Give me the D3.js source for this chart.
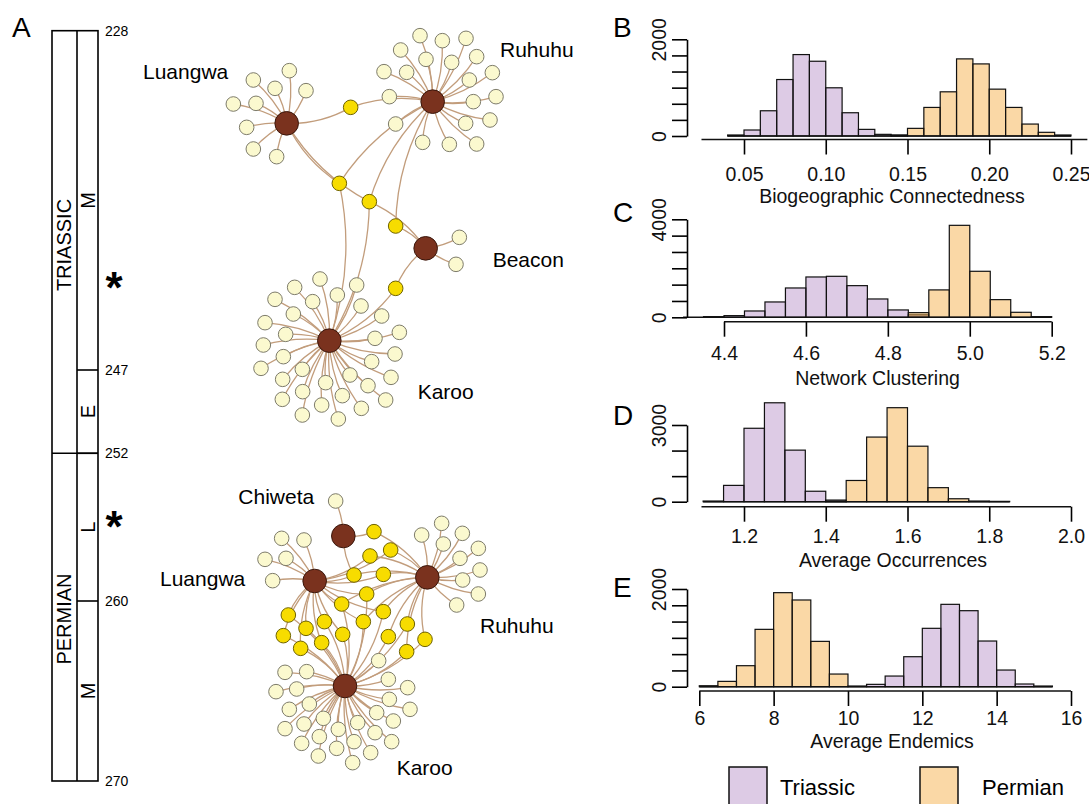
<!DOCTYPE html>
<html>
<head>
<meta charset="utf-8">
<title>Permian-Triassic biogeographic networks</title>
<script src="https://cdn.jsdelivr.net/npm/d3@7"></script>
<style>
  body { margin: 0; background: #fff; }
  svg { display: block; font-family: "Liberation Sans", Arial, Helvetica, sans-serif; }
</style>
</head>
<body>
<script>
// ---------- data ----------
// geological timescale (Ma)
var ageMarks = [228, 247, 252, 260, 270];
var periods = [["TRIASSIC", 228, 252], ["PERMIAN", 252, 270]];
var epochs = [["M", 228, 247], ["E", 247, 252], ["L", 252, 260], ["M", 260, 270]];
var starAges = [242, 255.6];

// network layouts (layout units of the force layout)
var triHubs = [["Luangwa", 470, 310], ["Ruhuhu", 908, 245], ["Beacon", 887, 685], ["Karoo", 598, 962]];
var triLeaves = [
  ["Luangwa",478,152],["Luangwa",370,180],["Luangwa",435,205],["Luangwa",528,212],["Luangwa",310,252],
  ["Luangwa",378,250],["Luangwa",350,322],["Luangwa",370,387],["Luangwa",440,410],
  ["Ruhuhu",870,47],["Ruhuhu",937,62],["Ruhuhu",1008,55],["Ruhuhu",812,90],["Ruhuhu",888,118],
  ["Ruhuhu",965,127],["Ruhuhu",1040,110],["Ruhuhu",762,155],["Ruhuhu",830,157],["Ruhuhu",1018,180],
  ["Ruhuhu",1087,158],["Ruhuhu",778,230],["Ruhuhu",1030,245],["Ruhuhu",1098,230],["Ruhuhu",1007,310],
  ["Ruhuhu",1080,300],["Ruhuhu",797,312],["Ruhuhu",878,367],["Ruhuhu",958,373],["Ruhuhu",1040,372],
  ["Beacon",988,652],["Beacon",978,733],
  ["Karoo",570,777],["Karoo",494,802],["Karoo",680,795],["Karoo",622,825],["Karoo",435,838],
  ["Karoo",548,845],["Karoo",693,858],["Karoo",490,882],["Karoo",755,888],["Karoo",405,908],
  ["Karoo",467,943],["Karoo",808,937],["Karoo",735,955],["Karoo",400,975],["Karoo",460,1010],
  ["Karoo",795,1002],["Karoo",725,1025],["Karoo",393,1045],["Karoo",517,1048],["Karoo",660,1065],
  ["Karoo",783,1072],["Karoo",458,1078],["Karoo",587,1088],["Karoo",714,1097],["Karoo",518,1115],
  ["Karoo",637,1127],["Karoo",767,1140],["Karoo",457,1138],["Karoo",575,1155],["Karoo",694,1165],
  ["Karoo",517,1185],["Karoo",625,1197]
];
var triShared = [
  [662, 262, ["Luangwa", "Ruhuhu"]],
  [628, 490, ["Luangwa", "Ruhuhu", "Karoo"]],
  [718, 545, ["Luangwa", "Ruhuhu", "Karoo", "Beacon"]],
  [797, 618, ["Ruhuhu", "Beacon"]],
  [797, 805, ["Beacon", "Karoo"]]
];
var triLabels = [["Luangwa", 39, 177], ["Ruhuhu", 1110, 112], ["Beacon", 1088, 741], ["Karoo", 863, 1137]];

var permHubs = [["Chiweta", 580, 198], ["Luangwa", 494, 333], ["Ruhuhu", 832, 322], ["Karoo", 585, 648]];
var permLeaves = [
  ["Chiweta",557,93],
  ["Luangwa",395,205],["Luangwa",462,210],["Luangwa",345,268],["Luangwa",408,265],["Luangwa",368,332],
  ["Ruhuhu",875,160],["Ruhuhu",815,195],["Ruhuhu",937,190],["Ruhuhu",880,222],["Ruhuhu",985,235],
  ["Ruhuhu",930,265],["Ruhuhu",990,300],["Ruhuhu",938,330],["Ruhuhu",985,372],["Ruhuhu",920,405],
  ["Karoo",686,572],["Karoo",405,607],["Karoo",470,605],["Karoo",715,628],["Karoo",378,665],
  ["Karoo",440,657],["Karoo",773,653],["Karoo",478,702],["Karoo",418,718],["Karoo",718,688],
  ["Karoo",780,718],["Karoo",520,745],["Karoo",680,728],["Karoo",405,776],["Karoo",462,762],
  ["Karoo",623,758],["Karoo",730,753],["Karoo",565,778],["Karoo",508,800],["Karoo",675,788],
  ["Karoo",455,820],["Karoo",560,835],["Karoo",612,815],["Karoo",725,815],["Karoo",505,858],
  ["Karoo",662,848],["Karoo",608,878]
];
var permShared = [
  [672, 185, ["Chiweta", "Ruhuhu"]],
  [660, 258, ["Luangwa", "Ruhuhu"]],
  [722, 240, ["Luangwa", "Ruhuhu"]],
  [612, 315, ["Luangwa", "Ruhuhu", "Chiweta"]],
  [700, 313, ["Luangwa", "Ruhuhu"]],
  [650, 372, ["Luangwa", "Ruhuhu", "Karoo"]],
  [575, 402, ["Luangwa", "Ruhuhu", "Karoo"]],
  [700, 425, ["Luangwa", "Ruhuhu", "Karoo"]],
  [415, 435, ["Luangwa", "Karoo"]],
  [468, 475, ["Luangwa", "Karoo"]],
  [523, 455, ["Luangwa", "Karoo"]],
  [640, 455, ["Luangwa", "Ruhuhu", "Karoo"]],
  [578, 493, ["Luangwa", "Karoo"]],
  [400, 497, ["Luangwa", "Karoo"]],
  [515, 518, ["Luangwa", "Karoo"]],
  [452, 535, ["Luangwa", "Karoo"]],
  [715, 500, ["Ruhuhu", "Karoo"]],
  [772, 462, ["Ruhuhu", "Karoo"]],
  [825, 508, ["Ruhuhu", "Karoo"]],
  [770, 545, ["Ruhuhu", "Karoo"]]
];
var permLabels = [["Chiweta", 265, 102], ["Luangwa", 30, 348], ["Ruhuhu", 990, 489], ["Karoo", 740, 915]];

// histograms: bin edges and counts
var edgesB = [0.04,0.05,0.06,0.07,0.08,0.09,0.10,0.11,0.12,0.13,0.14,0.15,0.16,0.17,0.18,0.19,0.20,0.21,0.22,0.23,0.24,0.25];
var triB  = [21,124,522,1168,1684,1546,997,481,137,34,14,0,0,0,0,0,0,0,0,0,0];
var permB = [0,0,0,0,0,0,0,0,0,0,21,158,591,914,1595,1491,969,591,247,76,21];
var ticksB = [0.05, 0.10, 0.15, 0.20, 0.25];

var edgesC = [4.30,4.35,4.40,4.45,4.50,4.55,4.60,4.65,4.70,4.75,4.80,4.85,4.90,4.95,5.00,5.05,5.10,5.15,5.20];
var triC  = [0,27,68,258,626,1197,1646,1673,1292,748,300,100,0,0,0,0,0,0];
var permC = [0,0,0,0,0,0,0,0,0,0,0,190,1118,3754,1878,721,204,27];
var ticksC = [4.4, 4.6, 4.8, 5.0, 5.2];

var edgesD = [1.10,1.15,1.20,1.25,1.30,1.35,1.40,1.45,1.50,1.55,1.60,1.65,1.70,1.75,1.80,1.85];
var triD  = [26,638,2872,3869,2017,409,64,0,0,0,0,0,0,0,0];
var permD = [0,0,0,0,0,0,26,830,2528,3677,2171,549,115,26,13];
var ticksD = [1.2, 1.4, 1.6, 1.8, 2.0];

var edgesE = [6.0,6.5,7.0,7.5,8.0,8.5,9.0,9.5,10.0,10.5,11.0,11.5,12.0,12.5,13.0,13.5,14.0,14.5,15.0,15.5];
var triE  = [0,0,0,0,0,0,0,0,0,48,218,614,1195,1686,1556,935,341,55,14];
var permE = [20,109,430,1174,1925,1775,928,259,14,0,0,0,0,0,0,0,0,0,0];
var ticksE = [6, 8, 10, 12, 14, 16];

var seriesNames = ["Triassic", "Permian"];

// ---------- drawing ----------
var triColor = "rgba(160,110,182,0.36)", permColor = "rgba(245,168,58,0.45)";
var svg = d3.select("body").append("svg").attr("width", 1089).attr("height", 804);

function letter(t, x, y) {
  svg.append("text").attr("x", x).attr("y", y).attr("font-size", 28).text(t);
}

// ----- A: timescale
letter("A", 12, 37);
var ageY = d3.scaleLinear().domain(ageMarks).range([30.7, 370, 453.3, 601, 781]);
var col = {left: 52, mid: 77, right: 98};
var ts = svg.append("g").attr("stroke", "#000").attr("stroke-width", 1.6).attr("fill", "none");
ts.append("rect").attr("x", col.left).attr("y", ageY(228)).attr("width", col.right - col.left)
  .attr("height", ageY(270) - ageY(228));
ts.append("line").attr("x1", col.mid).attr("x2", col.mid).attr("y1", ageY(228)).attr("y2", ageY(270));
ts.selectAll(".pb").data(periods.slice(1)).enter().append("line")
  .attr("x1", col.left).attr("x2", col.right).attr("y1", d => ageY(d[1])).attr("y2", d => ageY(d[1]));
ts.selectAll(".eb").data(epochs.slice(1)).enter().append("line")
  .attr("x1", col.mid).attr("x2", col.right).attr("y1", d => ageY(d[1])).attr("y2", d => ageY(d[1]));

svg.selectAll(".age").data(ageMarks).enter().append("text")
  .attr("x", 105).attr("y", d => ageY(d)).attr("dy", "0.35em").attr("font-size", 14).text(d => d);
svg.selectAll(".period").data(periods).enter().append("text")
  .attr("transform", d => "translate(64," + ageY((d[1] + d[2]) / 2) + ") rotate(-90)")
  .attr("text-anchor", "middle").attr("dy", "0.36em").attr("font-size", 20).text(d => d[0]);
svg.selectAll(".epoch").data(epochs).enter().append("text")
  .attr("transform", d => "translate(88," + ageY((d[1] + d[2]) / 2) + ") rotate(-90)")
  .attr("text-anchor", "middle").attr("dy", "0.36em").attr("font-size", 20).text(d => d[0]);
svg.selectAll(".star").data(starAges).enter().append("text")
  .attr("x", 114).attr("y", d => ageY(d) + 22).attr("text-anchor", "middle")
  .attr("font-size", 44).attr("font-weight", "bold").text("*");

// ----- networks
function curve(s, t, k) {
  var mx = (s[0] + t[0]) / 2, my = (s[1] + t[1]) / 2, dx = t[0] - s[0], dy = t[1] - s[1];
  return "M" + s[0] + "," + s[1] + "Q" + (mx - k * dy) + "," + (my + k * dx) + " " + t[0] + "," + t[1];
}

function network(hubs, leaves, shared, labels, x, y) {
  var g = svg.append("g");
  var hubPos = {};
  hubs.forEach(h => hubPos[h[0]] = [x(h[1]), y(h[2])]);
  var links = [];
  leaves.forEach(l => links.push({s: hubPos[l[0]], t: [x(l[1]), y(l[2])], k: 0.1}));
  shared.forEach(n => n[2].forEach(h => links.push({s: hubPos[h], t: [x(n[0]), y(n[1])], k: 0.14})));
  g.selectAll("path").data(links).enter().append("path")
    .attr("d", d => curve(d.s, d.t, d.k))
    .attr("fill", "none").attr("stroke", "#c29d7c").attr("stroke-width", 1.3);
  g.selectAll(".leaf").data(leaves).enter().append("circle")
    .attr("cx", d => x(d[1])).attr("cy", d => y(d[2])).attr("r", 7.3)
    .attr("fill", "#fbf9cf").attr("stroke", "#7d7b6a").attr("stroke-width", 1);
  g.selectAll(".shared").data(shared).enter().append("circle")
    .attr("cx", d => x(d[0])).attr("cy", d => y(d[1])).attr("r", 7.3)
    .attr("fill", "#f7dc00").attr("stroke", "#6f6300").attr("stroke-width", 1);
  g.selectAll(".hub").data(hubs).enter().append("circle")
    .attr("cx", d => x(d[1])).attr("cy", d => y(d[2])).attr("r", 11.8)
    .attr("fill", "#7a321e").attr("stroke", "#3a170c").attr("stroke-width", 1);
  g.selectAll("text").data(labels).enter().append("text")
    .attr("x", d => x(d[1])).attr("y", d => y(d[2])).attr("font-size", 21).text(d => d[0]);
}

network(triHubs, triLeaves, triShared, triLabels,
  d3.scaleLinear().domain([0, 1380]).range([130, 590]),
  d3.scaleLinear().domain([0, 1260]).range([20, 440]));
network(permHubs, permLeaves, permShared, permLabels,
  d3.scaleLinear().domain([0, 1140]).range([150, 530]),
  d3.scaleLinear().domain([0, 1002]).range([470, 804]));

// ----- histograms
var panels = [
  {letter: "B", title: "Biogeographic Connectedness", edges: edgesB, tri: triB, perm: permB, ticks: ticksB, fmt: ".2f",
   yMax: 2000, yTicks: 7, xd: [0.05, 0.25], xr: [744, 1071], yr: [136, 39.3], axisY: 139.5, axisFrom: 0.024, axisTo: 0.26,
   letterY: 37, labelDy: 41, titleX: 892, titleY: 203},
  {letter: "C", title: "Network Clustering", edges: edgesC, tri: triC, perm: permC, ticks: ticksC, fmt: ".1f",
   yMax: 4000, yTicks: 7, xd: [4.4, 5.2], xr: [724, 1051.7], yr: [317.3, 219.3], axisY: 321.7, axisFrom: 4.4, axisTo: 5.2,
   letterY: 222, labelDy: 38.6, titleX: 877.5, titleY: 385},
  {letter: "D", title: "Average Occurrences", edges: edgesD, tri: triD, perm: permD, ticks: ticksD, fmt: ".1f",
   yMax: 3000, yTicks: 4, xd: [1.2, 2.0], xr: [744, 1071], yr: [501.7, 425], axisY: 506.7, axisFrom: 1.096, axisTo: 2.0,
   letterY: 425, labelDy: 36, titleX: 893, titleY: 567},
  {letter: "E", title: "Average Endemics", edges: edgesE, tri: triE, perm: permE, ticks: ticksE, fmt: "d",
   yMax: 2000, yTicks: 7, xd: [6, 16], xr: [699.3, 1071], yr: [686.7, 589], axisY: 691, axisFrom: 6, axisTo: 16,
   letterY: 597, labelDy: 34.3, titleX: 892, titleY: 748}
];

panels.forEach(function(p) {
  letter(p.letter, 613, p.letterY);
  var x = d3.scaleLinear().domain(p.xd).range(p.xr);
  var y = d3.scaleLinear().domain([0, p.yMax]).range(p.yr);
  var g = svg.append("g");

  [[p.tri, triColor], [p.perm, permColor]].forEach(function(s) {
    var bins = s[0].map((v, i) => ({x0: p.edges[i], x1: p.edges[i + 1], v: v})).filter(b => b.v > 0);
    g.append("g").selectAll("rect").data(bins).enter().append("rect")
      .attr("x", d => x(d.x0)).attr("width", d => x(d.x1) - x(d.x0))
      .attr("y", d => y(d.v)).attr("height", d => y(0) - y(d.v))
      .attr("fill", s[1]).attr("stroke", "#111").attr("stroke-width", 1.2);
  });
  // zero baseline across the bins
  g.append("line").attr("x1", x(p.edges[0])).attr("x2", x(p.edges[p.edges.length - 1]))
    .attr("y1", y(0)).attr("y2", y(0)).attr("stroke", "#111").attr("stroke-width", 1.5);

  // y axis
  var yTickVals = d3.range(p.yTicks).map(i => i * p.yMax / (p.yTicks - 1));
  var ya = g.append("g").attr("transform", "translate(687,0)")
    .call(d3.axisLeft(y).tickValues(yTickVals).tickSize(15).tickSizeOuter(0)
      .tickFormat(d => (d === 0 || d === p.yMax) ? d : ""));
  ya.select(".domain").attr("stroke-width", 1.6);
  ya.selectAll(".tick line").attr("stroke-width", 1.6);
  ya.selectAll(".tick text").attr("font-size", 19.5).attr("font-family", null)
    .attr("transform", "rotate(-90)").attr("x", 0).attr("y", -21.5).attr("dy", 0)
    .attr("text-anchor", "middle").attr("fill", "#111");

  // x axis
  var xa = g.append("g").attr("transform", "translate(0," + p.axisY + ")")
    .call(d3.axisBottom(x).tickValues(p.ticks).tickSize(15).tickSizeOuter(0).tickFormat(d3.format(p.fmt)));
  xa.select(".domain").remove();
  xa.append("line").attr("x1", x(p.axisFrom)).attr("x2", x(p.axisTo)).attr("stroke", "#111").attr("stroke-width", 1.6);
  xa.selectAll(".tick line").attr("stroke-width", 1.6);
  xa.selectAll(".tick text").attr("font-size", 19.5).attr("font-family", null)
    .attr("y", p.labelDy).attr("dy", 0).attr("fill", "#111");

  svg.append("text").attr("x", p.titleX).attr("y", p.titleY).attr("text-anchor", "middle")
    .attr("font-size", 19.5).attr("fill", "#111").text(p.title);
});

// legend
var legend = svg.selectAll(".legend").data(seriesNames).enter().append("g")
  .attr("transform", (d, i) => "translate(" + [729, 920][i] + ",767)");
legend.append("rect").attr("width", 38).attr("height", 42)
  .attr("fill", (d, i) => [triColor, permColor][i]).attr("stroke", "#111").attr("stroke-width", 1.5);
legend.append("text").attr("x", (d, i) => [51, 62][i]).attr("y", 28).attr("font-size", 22).text(d => d);
</script>
</body>
</html>
